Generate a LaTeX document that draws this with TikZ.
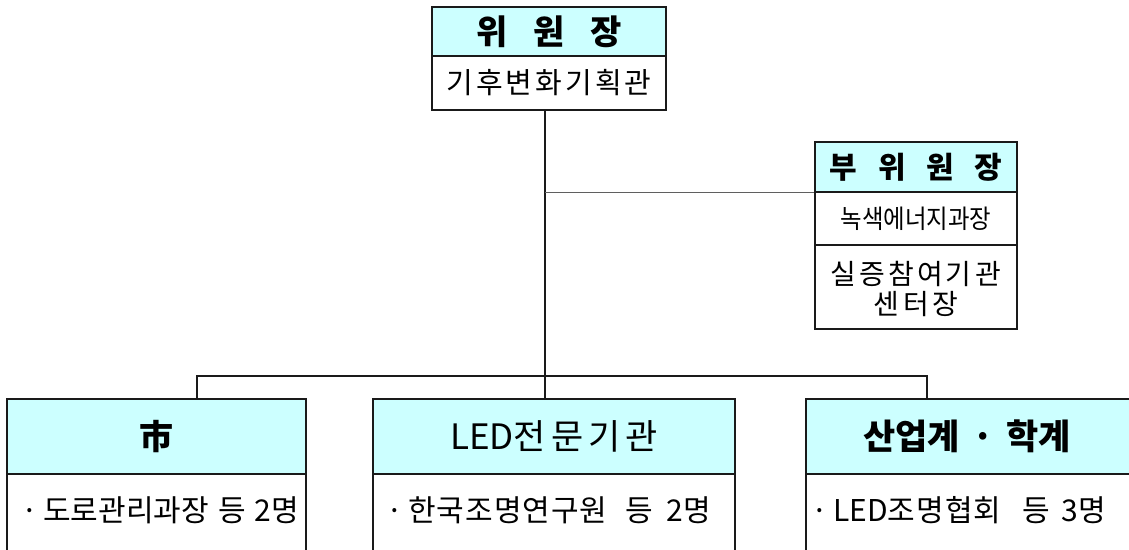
\documentclass[tikz,border=0pt]{standalone}
\usepackage{fontspec}
\setmainfont{Noto Sans CJK KR}
\definecolor{hdr}{HTML}{CCFFFF}
\definecolor{ln}{HTML}{1A1A1A}
\tikzset{
  box/.style={draw=ln, line width=1.3pt, inner sep=0pt, anchor=center},
  hbox/.style={box, fill=hdr},
  conn/.style={draw=ln, line width=1.3pt},
  bigb/.style={font=\fontsize{34}{38}\selectfont\bfseries},
  midr/.style={font=\fontsize{30}{34}\selectfont},
}
\begin{document}
\begin{tikzpicture}[x=1pt,y=-1pt]
\useasboundingbox (0,0) rectangle (1129,549);
% chair
\node[hbox, minimum width=234, minimum height=49] (chairH) at (549,31.5) {};
\node[bigb] at (chairH) {위\hspace{0.75em}원\hspace{0.75em}장};
\node[box, minimum width=234, minimum height=54] (chairB) at (549,83) {};
\node[font=\fontsize{29}{32}\selectfont] at (chairB) {기\kern3pt후\kern3pt변\kern3pt화\kern3pt기\kern3pt획\kern3pt관};
% vice chair
\node[hbox, minimum width=202, minimum height=50] (viceH) at (916,167) {};
\node[font=\fontsize{30}{34}\selectfont\bfseries] at (viceH) {부\hspace{0.69em}위\hspace{0.69em}원\hspace{0.69em}장};
\node[box, minimum width=202, minimum height=53] (viceB1) at (916,218.5) {};
\node[font=\fontsize{26}{30}\selectfont] at (viceB1) {\addfontfeatures{FakeStretch=0.9}녹색에너지과장};
\node[box, minimum width=202, minimum height=84] (viceB2) at (916,287) {};
\node[font=\fontsize{28}{30}\selectfont, align=center] at (916,289) {실\kern3pt증\kern3pt참\kern3pt여\kern3pt기\kern4pt관\\센\kern4pt터\kern4pt장};
% bottom boxes
\node[hbox, minimum width=299, minimum height=75] (leftH) at (156.5,436.5) {};
\node[font=\fontsize{34}{38}\selectfont\bfseries] at (leftH) {市};
\node[box, minimum width=299, minimum height=100, anchor=north] (leftB) at (156.5,474) {};
\node[midr, anchor=west] at (18,510) {·\,도로관리과장\hspace{0.33em}등\hspace{0.28em}2명};
\node[hbox, minimum width=362, minimum height=75] (midH) at (554,436.5) {};
\node[font=\fontsize{35}{38}\selectfont] at (midH) {LED전\kern5pt문\kern5pt기\kern5pt관};
\node[box, minimum width=362, minimum height=100, anchor=north] (midB) at (554,474) {};
\node[midr, anchor=west] at (383,510) {·\,한\kern1pt국\kern1pt조\kern1pt명\kern1pt연\kern1pt구\kern1pt원\hspace{0.6em}등\hspace{0.45em}2명};
\node[hbox, minimum width=330, minimum height=75] (rightH) at (971,436.5) {};
\node[font=\fontsize{35}{38}\selectfont\bfseries] at (967,436.5) {산업계\hspace{0.35em}·\hspace{0.35em}학계};
\node[box, minimum width=330, minimum height=100, anchor=north] (rightB) at (971,474) {};
\node[midr, anchor=west] at (808,510) {·\,LED조\kern1pt명\kern1pt협\kern1pt회\hspace{0.7em}등\hspace{0.4em}3명};
% connectors
\coordinate (J) at (545,376);
\coordinate (Lc) at (197,376);
\coordinate (Rc) at (927,376);
\draw[conn] (chairB.south -| J) -- (midH.north -| J);
\draw[conn, draw=ln!70] (viceH.south west) -- (viceH.south west -| J);
\draw[conn] (leftH.north -| Lc) -- (Lc) -- (Rc) -- (rightH.north -| Rc);
\end{tikzpicture}
\end{document}
